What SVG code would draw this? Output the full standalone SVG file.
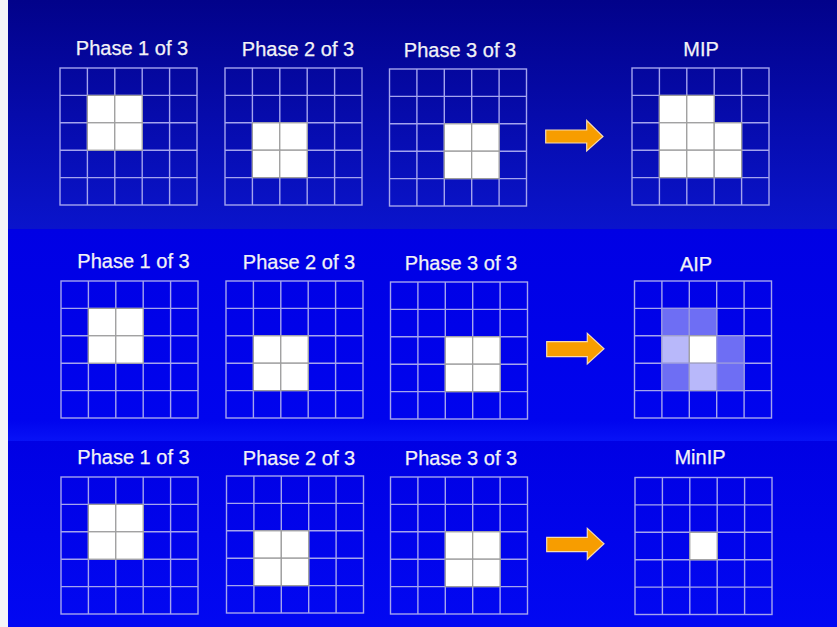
<svg xmlns="http://www.w3.org/2000/svg" xmlns:xlink="http://www.w3.org/1999/xlink" width="837" height="627" viewBox="0 0 837 627">
<style>
.t{font-family:"Liberation Sans",Arial,sans-serif;font-size:20px;fill:#f2f2f6;stroke:#f2f2f6;stroke-width:0.25;text-anchor:middle}
.gl{fill:none;stroke:#a4a4ee;stroke-width:1.4}
.w{fill:#ffffff;stroke:#9c9c9c;stroke-width:1.2}
.m{fill:#6e6ef4;stroke:#9a9ae0;stroke-width:1.2}
.l{fill:#b8b8fa;stroke:#a0a0c8;stroke-width:1.2}
.arr{fill:#f79d00;stroke:#f6d9b0;stroke-width:1.2}
</style>
<defs>
<linearGradient id="bg1" x1="0" y1="0" x2="0" y2="1">
<stop offset="0" stop-color="#02028a"/>
<stop offset="1" stop-color="#0a14cc"/>
</linearGradient>
<linearGradient id="bg2" x1="0" y1="0" x2="0" y2="1">
<stop offset="0" stop-color="#0000e4"/>
<stop offset="0.9" stop-color="#0004ee"/>
<stop offset="1" stop-color="#0812f6"/>
</linearGradient>
<linearGradient id="bg3" x1="0" y1="0" x2="0" y2="1">
<stop offset="0" stop-color="#0000e4"/>
<stop offset="1" stop-color="#0208f2"/>
</linearGradient>
<g id="grid">
<rect class="gl" x="0" y="0" width="137" height="137"/>
<path class="gl" d="M27.4,0V137M54.8,0V137M82.2,0V137M109.6,0V137M0,27.4H137M0,54.8H137M0,82.2H137M0,109.6H137"/>
</g>
</defs>
<rect x="0" y="0" width="837" height="229" fill="url(#bg1)"/>
<rect x="0" y="229" width="837" height="212" fill="url(#bg2)"/>
<rect x="0" y="441" width="837" height="186" fill="url(#bg3)"/>
<rect x="0" y="0" width="8" height="627" fill="#f4f4f8"/>

<g id="r1p1">
<text class="t" x="132" y="55">Phase 1 of 3</text>
<g transform="translate(60,68)"><use xlink:href="#grid"/>
<rect class="w" x="27.4" y="27.4" width="27.4" height="27.4"/><rect class="w" x="54.8" y="27.4" width="27.4" height="27.4"/>
<rect class="w" x="27.4" y="54.8" width="27.4" height="27.4"/><rect class="w" x="54.8" y="54.8" width="27.4" height="27.4"/>
</g></g>
<g id="r1p2">
<text class="t" x="298" y="56">Phase 2 of 3</text>
<g transform="translate(225,68)"><use xlink:href="#grid"/>
<rect class="w" x="27.4" y="54.8" width="27.4" height="27.4"/><rect class="w" x="54.8" y="54.8" width="27.4" height="27.4"/>
<rect class="w" x="27.4" y="82.2" width="27.4" height="27.4"/><rect class="w" x="54.8" y="82.2" width="27.4" height="27.4"/>
</g></g>
<g id="r1p3">
<text class="t" x="460" y="57">Phase 3 of 3</text>
<g transform="translate(389.5,69)"><use xlink:href="#grid"/>
<rect class="w" x="54.8" y="54.8" width="27.4" height="27.4"/><rect class="w" x="82.2" y="54.8" width="27.4" height="27.4"/>
<rect class="w" x="54.8" y="82.2" width="27.4" height="27.4"/><rect class="w" x="82.2" y="82.2" width="27.4" height="27.4"/>
</g></g>
<g id="mip">
<text class="t" x="701" y="56">MIP</text>
<g transform="translate(632,68)"><use xlink:href="#grid"/>
<rect class="w" x="27.4" y="27.4" width="27.4" height="27.4"/><rect class="w" x="54.8" y="27.4" width="27.4" height="27.4"/>
<rect class="w" x="27.4" y="54.8" width="27.4" height="27.4"/><rect class="w" x="54.8" y="54.8" width="27.4" height="27.4"/><rect class="w" x="82.2" y="54.8" width="27.4" height="27.4"/>
<rect class="w" x="27.4" y="82.2" width="27.4" height="27.4"/><rect class="w" x="54.8" y="82.2" width="27.4" height="27.4"/><rect class="w" x="82.2" y="82.2" width="27.4" height="27.4"/>
</g></g>

<g id="r2p1">
<text class="t" x="133.5" y="267.5">Phase 1 of 3</text>
<g transform="translate(61,281)"><use xlink:href="#grid"/>
<rect class="w" x="27.4" y="27.4" width="27.4" height="27.4"/><rect class="w" x="54.8" y="27.4" width="27.4" height="27.4"/>
<rect class="w" x="27.4" y="54.8" width="27.4" height="27.4"/><rect class="w" x="54.8" y="54.8" width="27.4" height="27.4"/>
</g></g>
<g id="r2p2">
<text class="t" x="299" y="268.5">Phase 2 of 3</text>
<g transform="translate(226,281)"><use xlink:href="#grid"/>
<rect class="w" x="27.4" y="54.8" width="27.4" height="27.4"/><rect class="w" x="54.8" y="54.8" width="27.4" height="27.4"/>
<rect class="w" x="27.4" y="82.2" width="27.4" height="27.4"/><rect class="w" x="54.8" y="82.2" width="27.4" height="27.4"/>
</g></g>
<g id="r2p3">
<text class="t" x="461" y="270">Phase 3 of 3</text>
<g transform="translate(390.5,282)"><use xlink:href="#grid"/>
<rect class="w" x="54.8" y="54.8" width="27.4" height="27.4"/><rect class="w" x="82.2" y="54.8" width="27.4" height="27.4"/>
<rect class="w" x="54.8" y="82.2" width="27.4" height="27.4"/><rect class="w" x="82.2" y="82.2" width="27.4" height="27.4"/>
</g></g>
<g id="aip">
<text class="t" x="696" y="270.5">AIP</text>
<g transform="translate(634.5,281)"><use xlink:href="#grid"/>
<rect class="m" x="27.4" y="27.4" width="27.4" height="27.4"/><rect class="m" x="54.8" y="27.4" width="27.4" height="27.4"/>
<rect class="l" x="27.4" y="54.8" width="27.4" height="27.4"/><rect class="w" x="54.8" y="54.8" width="27.4" height="27.4"/><rect class="m" x="82.2" y="54.8" width="27.4" height="27.4"/>
<rect class="m" x="27.4" y="82.2" width="27.4" height="27.4"/><rect class="l" x="54.8" y="82.2" width="27.4" height="27.4"/><rect class="m" x="82.2" y="82.2" width="27.4" height="27.4"/>
</g></g>

<g id="r3p1">
<text class="t" x="133.5" y="463.5">Phase 1 of 3</text>
<g transform="translate(61,477)"><use xlink:href="#grid"/>
<rect class="w" x="27.4" y="27.4" width="27.4" height="27.4"/><rect class="w" x="54.8" y="27.4" width="27.4" height="27.4"/>
<rect class="w" x="27.4" y="54.8" width="27.4" height="27.4"/><rect class="w" x="54.8" y="54.8" width="27.4" height="27.4"/>
</g></g>
<g id="r3p2">
<text class="t" x="299" y="464.5">Phase 2 of 3</text>
<g transform="translate(226.5,476)"><use xlink:href="#grid"/>
<rect class="w" x="27.4" y="54.8" width="27.4" height="27.4"/><rect class="w" x="54.8" y="54.8" width="27.4" height="27.4"/>
<rect class="w" x="27.4" y="82.2" width="27.4" height="27.4"/><rect class="w" x="54.8" y="82.2" width="27.4" height="27.4"/>
</g></g>
<g id="r3p3">
<text class="t" x="461" y="465">Phase 3 of 3</text>
<g transform="translate(390.5,477)"><use xlink:href="#grid"/>
<rect class="w" x="54.8" y="54.8" width="27.4" height="27.4"/><rect class="w" x="82.2" y="54.8" width="27.4" height="27.4"/>
<rect class="w" x="54.8" y="82.2" width="27.4" height="27.4"/><rect class="w" x="82.2" y="82.2" width="27.4" height="27.4"/>
</g></g>
<g id="minip">
<text class="t" x="700" y="464">MinIP</text>
<g transform="translate(635,477.5)"><use xlink:href="#grid"/>
<rect class="w" x="54.8" y="54.8" width="27.4" height="27.4"/>
</g></g>

<g id="connectors">
<path class="arr" d="M545.7,130H586.7V120.5L603,136.5L586.7,151V143H545.7Z"/>
<path class="arr" d="M546.7,341.7H587.3V333.3L604,348.7L587.3,364V356.7H546.7Z"/>
<path class="arr" d="M546.7,537.3H587.3V528.3L604,543.8L587.3,559.3V551.7H546.7Z"/>
</g>
</svg>
